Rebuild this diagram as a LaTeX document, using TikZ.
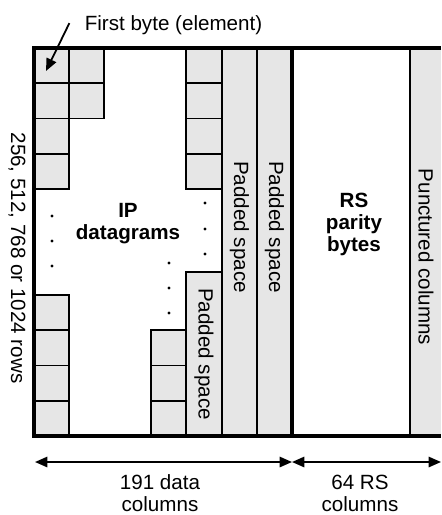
\documentclass[tikz,border=0pt]{standalone}
\usepackage{fontspec}
\setmainfont{Liberation Sans}
\usetikzlibrary{calc, arrows.meta}

\definecolor{cellgray}{RGB}{230,230,230}

\tikzset{
    cell/.style={draw=black, line width=0.9pt, fill=cellgray},
    frameline/.style={line width=2.2pt},
    txt/.style={font=\fontsize{10.3}{11}\selectfont, align=center, inner sep=0pt},
    sidetxt/.style={txt, rotate=-90},
    tip/.tip={Triangle[length=6.2pt, width=5.2pt]},
    dimline/.style={tip-tip, line width=0.9pt},
    gap/.style={fill=black}
}

\begin{document}
\begin{tikzpicture}[x=0.5pt, y=-0.5pt]
    \useasboundingbox (0,0) rectangle (441,515);

    % byte cells of the data part
    \foreach \y in {48,83.25,118.5,153.75}
    \draw[cell] (34,\y) rectangle ++(35.2,35.25);
    \foreach \y in {48,83.25}
    \draw[cell] (69.2,\y) rectangle ++(35,35.25);
    \foreach \y in {48,83.25,118.5,153.75}
    \draw[cell] (186,\y) rectangle ++(36,35.25);
    \foreach \y in {295,330.25,365.5,400.75}
    \draw[cell] (34,\y) rectangle ++(35.2,35.25);
    \foreach \y in {330.25,365.5,400.75}
    \draw[cell] (151,\y) rectangle ++(35,35.25);

    % padding and punctured columns
    \draw[cell] (186,272) rectangle (222,436);
    \draw[cell] (222,48) rectangle (257,436);
    \draw[cell] (257,48) rectangle (292,436);
    \fill[cellgray] (410,48) rectangle (441,436);
    \draw[line width=0.9pt] (410,48) -- (410,436);

    % left out rows and columns
    \foreach \x/\y in {52/216,52/241,52/266,205/203,205/229,205/254,169/263,169/288,169/313}
    \fill[gap] (\x,\y) circle (0.85pt);

    % outer frame
    \draw[frameline] (441,48) -- (34,48) -- (34,436) -- (441,436);
    \draw[frameline] (292,48) -- (292,436);

    \node[txt, font=\fontsize{10.3}{11}\selectfont\bfseries] (ipdata) at (128,224) {IP\\datagrams};
    \node[txt, font=\fontsize{10.3}{11}\selectfont\bfseries] (rsbytes) at (354,224) {RS\\parity\\bytes};
    \node[sidetxt] (padone) at (204,354) {Padded space};
    \node[sidetxt] (padtwo) at (239.5,227) {Padded space};
    \node[sidetxt] (padthree) at (274.5,227) {Padded space};
    \node[sidetxt] (punct) at (426,257) {Punctured columns};
    \node[sidetxt] (rows) at (17,258) {256, 512, 768 or 1024 rows};

    % first element
    \node[txt] (firstlbl) at (173.5,24.7) {First byte (element)};
    \coordinate (firstcell) at (46,71);
    \draw[-tip, line width=0.9pt] ([xshift=-7.5pt,yshift=0.8pt]firstlbl.west) -- (firstcell);

    % column counts
    \coordinate (dl) at (35,462);
    \coordinate (dm) at (292,462);
    \coordinate (dr) at (441,462);
    \draw[dimline] (dl) -- (dm);
    \draw[dimline] (dm) -- (dr);
    \node[txt] (datacols) at (160,493) {191 data\\columns};
    \node[txt] (rscols) at (360,493) {64 RS\\columns};
\end{tikzpicture}
\end{document}
